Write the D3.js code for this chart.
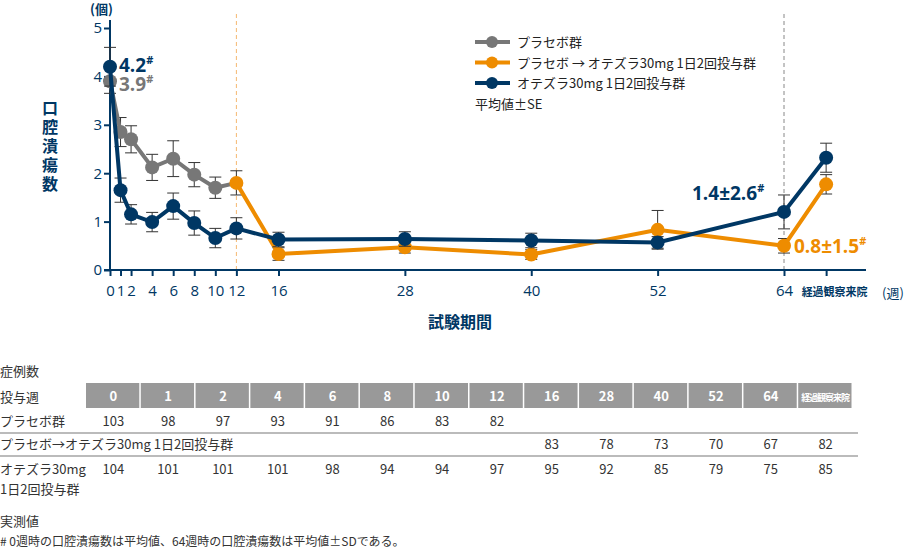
<!DOCTYPE html><html><head><meta charset="utf-8"><script src="https://cdn.jsdelivr.net/npm/d3@7"></script>
<style>body{margin:0;background:#fff;font-family:"Noto Sans CJK JP","Noto Sans",sans-serif}</style></head><body><svg id="c" width="911" height="549"></svg><script>
const weeks=[0,1,2,4,6,8,10,12,16,28,40,52,64,68];
const tickLabels=["0","1","2","4","6","8","10","12","16","28","40","52","64","経過観察来院"];
const placeboW=[0,1,2,4,6,8,10];
const placebo=[3.9,2.85,2.7,2.12,2.3,1.97,1.7];
const placeboSE=[0.25,0.3,0.28,0.27,0.37,0.25,0.22];
const switchW=[12,16,28,40,52,64,68];
const switched=[1.8,0.33,0.47,0.32,0.83,0.5,1.77];
const switchSE=[0.25,0.13,0.12,0.1,0.4,0.15,0.2];
const apreW=[0,1,2,4,6,8,10,12,16,28,40,52,64,68];
const apre=[4.2,1.65,1.15,0.99,1.32,0.97,0.66,0.86,0.63,0.64,0.61,0.57,1.2,2.32];
const apreSE=[0.4,0.25,0.2,0.2,0.27,0.25,0.2,0.22,0.15,0.15,0.15,0.12,0.35,0.3];
const tblHead=["0","1","2","4","6","8","10","12","16","28","40","52","64","経過観察来院"];
const nPlacebo=[103,98,97,93,91,86,83,82,null,null,null,null,null,null];
const nSwitch=[null,null,null,null,null,null,null,null,83,78,73,70,67,82];
const nApre=[104,101,101,101,98,94,94,97,95,92,85,79,75,85];
const GRAY="#777",ORG="#ee8c00",NAVY="#003764";
const svg=d3.select("#c");
const x=d3.scaleLinear().domain([0,64]).range([110,784]);
const y=d3.scaleLinear().domain([0,5]).range([270,28]);
svg.append("line").attr("x1",x(12)).attr("x2",x(12)).attr("y1",14).attr("y2",270).attr("stroke","#f5b870").attr("stroke-dasharray","4,3");
svg.append("line").attr("x1",x(64)).attr("x2",x(64)).attr("y1",14).attr("y2",270).attr("stroke","#888").attr("stroke-dasharray","4,3");
const ya=svg.append("g").attr("transform","translate(110,0)").call(d3.axisLeft(y).ticks(5).tickSize(5).tickFormat(d3.format("d")));
ya.select(".domain").attr("d","M0,20V270");
const xa=svg.append("g").attr("transform","translate(0,270)").call(d3.axisBottom(x).tickValues(weeks).tickSize(6).tickFormat((d,i)=>tickLabels[i]));
xa.select(".domain").attr("d","M104,0H866");
[ya,xa].forEach(a=>{a.selectAll("path,line").attr("stroke",NAVY).attr("stroke-width",2);a.selectAll("text").attr("fill",NAVY).attr("font-size",15).attr("font-family","Open Sans,sans-serif");});
ya.selectAll("line").attr("x1",0).attr("x2",-6);
xa.selectAll("text").attr("dy","1.1em").filter(d=>d===68).attr("font-size",11).attr("font-family","Noto Sans CJK JP").attr("font-weight","bold").attr("text-anchor","start").attr("x",-25).attr("dy","1.5em");
svg.append("text").attr("x",90).attr("y",14).text("(個)").attr("fill",NAVY).attr("font-size",13).attr("font-weight","bold");
svg.append("text").attr("x",882).attr("y",298).text("(週)").attr("fill",NAVY).attr("font-size",13);
svg.append("text").attr("x",460).attr("y",328).attr("text-anchor","middle").text("試験期間").attr("fill",NAVY).attr("font-size",16).attr("font-weight","bold");
["口","腔","潰","瘍","数"].forEach((c,i)=>svg.append("text").attr("x",50).attr("y",114+i*19).attr("text-anchor","middle").text(c).attr("fill",NAVY).attr("font-size",16).attr("font-weight","bold"));
function series(W,V,E,col){
  const g=svg.append("g");
  W.forEach((w,i)=>{const t=y(V[i]+E[i]),b=y(V[i]-E[i]),cx=x(w);
    g.append("line").attr("x1",cx).attr("x2",cx).attr("y1",t).attr("y2",b).attr("stroke","#333");
    [t,b].forEach(yy=>g.append("line").attr("x1",cx-6).attr("x2",cx+6).attr("y1",yy).attr("y2",yy).attr("stroke","#333"));});
  g.append("path").datum(W.map((w,i)=>[x(w),y(V[i])])).attr("d",d3.line()).attr("fill","none").attr("stroke",col).attr("stroke-width",4);
  W.forEach((w,i)=>g.append("circle").attr("cx",x(w)).attr("cy",y(V[i])).attr("r",7).attr("fill",col));
}
svg.append("line").attr("x1",x(10)).attr("y1",y(1.7)).attr("x2",x(12)).attr("y2",y(1.8)).attr("stroke",GRAY).attr("stroke-width",4);
series(placeboW,placebo,placeboSE,GRAY);
series(switchW,switched,switchSE,ORG);
series(apreW,apre,apreSE,NAVY);
function lab(xx,yy,t,col){const tx=svg.append("text").attr("x",xx).attr("y",yy).attr("fill",col).attr("font-size",19).attr("font-weight","bold").attr("font-family","Open Sans,sans-serif").text(t);tx.append("tspan").attr("dy",-8).attr("font-size",11).text("#");}
lab(119,72,"4.2",NAVY);lab(119,91,"3.9",GRAY);
lab(692,200,"1.4±2.6",NAVY);lab(794,253,"0.8±1.5",ORG);
[["プラセボ群",GRAY],["プラセボ → オテズラ30mg 1日2回投与群",ORG],["オテズラ30mg 1日2回投与群",NAVY]].forEach((d,i)=>{const yy=42+i*20.5;
 svg.append("line").attr("x1",475).attr("x2",510).attr("y1",yy).attr("y2",yy).attr("stroke",d[1]).attr("stroke-width",4);
 svg.append("circle").attr("cx",492).attr("cy",yy).attr("r",6).attr("fill",d[1]);
 svg.append("text").attr("x",517).attr("y",yy+5).text(d[0]).attr("font-size",13).attr("fill","#222");});
svg.append("text").attr("x",475).attr("y",109).text("平均値±SE").attr("font-size",13).attr("fill","#222");
const T="#333",cw=(853-86)/14,cx=i=>86+cw*i+cw/2;
svg.append("text").attr("x",0).attr("y",376).text("症例数").attr("font-size",13).attr("fill",T);
svg.append("text").attr("x",0).attr("y",402).text("投与週").attr("font-size",13).attr("fill",T);
tblHead.forEach((h,i)=>{svg.append("rect").attr("x",86+cw*i).attr("y",383).attr("width",cw-1.5).attr("height",25).attr("fill","#999");
 svg.append("text").attr("x",cx(i)).attr("y",401).attr("text-anchor","middle").text(h).attr("fill","#fff").attr("font-weight","bold").attr("font-size",i==13?9:13).attr("textLength",i==13?cw-6:null);});
const row=(arr,yy)=>arr.forEach((v,i)=>{if(v!=null)svg.append("text").attr("x",cx(i)).attr("y",yy).attr("text-anchor","middle").text(v).attr("font-size",13).attr("fill",T);});
svg.append("text").attr("x",0).attr("y",426).text("プラセボ群").attr("font-size",13).attr("fill",T);row(nPlacebo,426);
svg.append("line").attr("x1",0).attr("x2",858).attr("y1",433).attr("y2",433).attr("stroke","#bbb").attr("stroke-width",2);
svg.append("text").attr("x",0).attr("y",449).text("プラセボ→オテズラ30mg 1日2回投与群").attr("font-size",13).attr("fill",T);row(nSwitch,449);
svg.append("line").attr("x1",0).attr("x2",858).attr("y1",456).attr("y2",456).attr("stroke","#bbb").attr("stroke-width",2);
svg.append("text").attr("x",0).attr("y",474).text("オテズラ30mg").attr("font-size",13).attr("fill",T);row(nApre,474);
svg.append("text").attr("x",0).attr("y",494).text("1日2回投与群").attr("font-size",13).attr("fill",T);
svg.append("text").attr("x",0).attr("y",526).text("実測値").attr("font-size",13).attr("fill",T);
svg.append("text").attr("x",0).attr("y",546).text("# 0週時の口腔潰瘍数は平均値、64週時の口腔潰瘍数は平均値±SDである。").attr("font-size",12).attr("fill",T);
</script></body></html>
